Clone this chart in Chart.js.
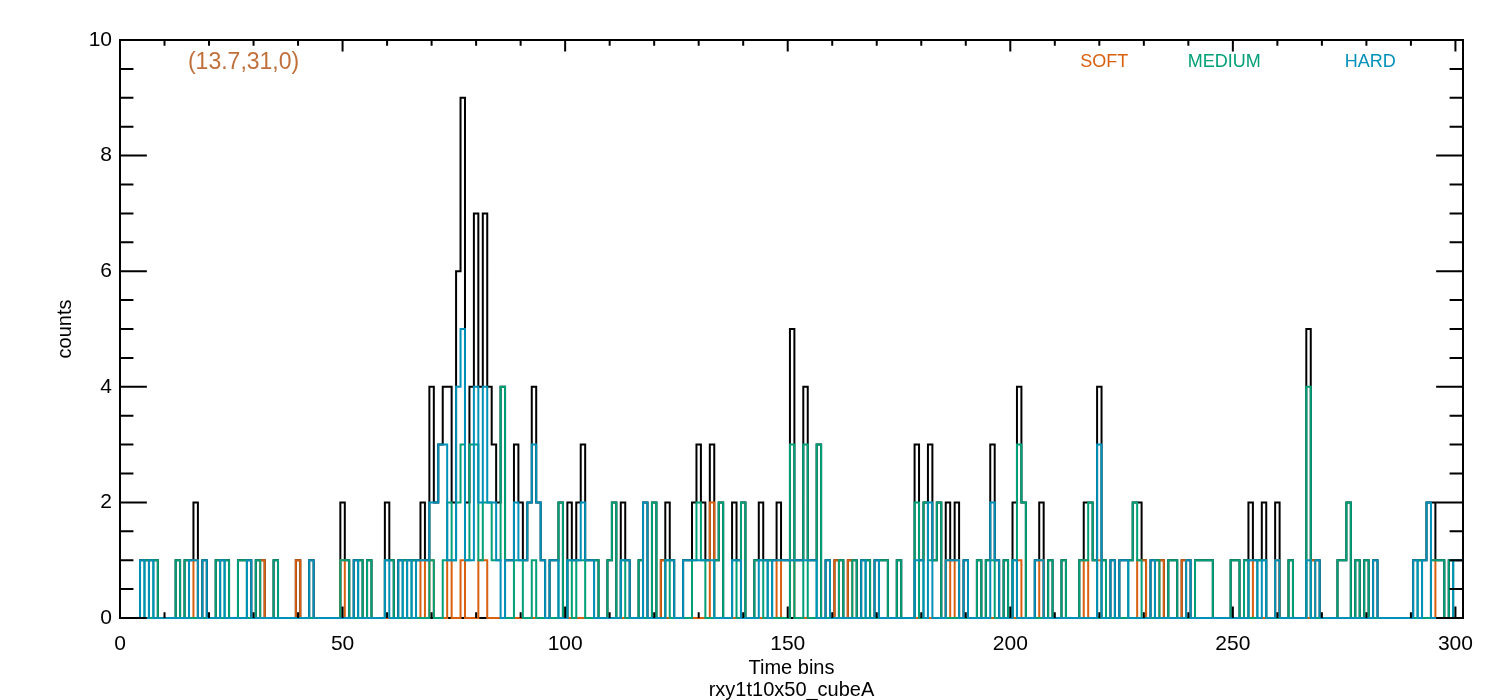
<!DOCTYPE html>
<html>
<head>
<meta charset="utf-8">
<script src="https://cdn.jsdelivr.net/npm/chart.js@4.4.1/dist/chart.umd.min.js"></script>
<style>
html,body{margin:0;padding:0;background:#fff;}
#wrap{width:1500px;height:700px;position:relative;}
</style>
</head>
<body>
<div id="wrap"><canvas id="c" width="1500" height="700"></canvas></div>
<script>
// ---- data: counts per time bin (bins 0..301) ----
const soft = [
0,0,0,0,0,0,0,0,0,0, 0,0,0,0,0,0,0,1,0,0, 0,0,0,0,0,0,0,0,0,0, 0,0,1,0,0,0,0,0,0,0, 1,0,0,0,0,0,0,0,0,0,
1,0,0,0,0,0,0,0,0,0, 0,0,0,0,0,0,0,0,1,0, 1,0,0,0,1,0,0,1,0,0, 0,1,1,0,0,0,0,0,0,0, 0,0,0,0,0,0,0,0,0,0,
0,0,0,0,0,0,0,0,0,0, 0,0,0,0,0,0,0,0,0,0, 0,0,1,0,0,0,0,0,0,0, 0,0,0,2,0,0,0,0,0,0, 0,0,0,0,0,0,0,0,1,0,
0,1,0,0,0,0,0,0,0,0, 0,1,0,0,1,0,0,0,0,0, 0,0,0,0,0,0,0,0,0,0, 0,0,0,0,0,0,1,0,1,0, 0,0,0,0,0,0,0,0,0,0,
0,0,1,0,0,0,0,1,0,0, 0,0,0,0,0,0,0,1,0,0, 1,0,0,0,0,0,0,0,0,1, 1,0,0,0,1,0,0,0,0,1, 0,0,0,0,0,0,0,0,0,0,
0,0,0,0,1,0,0,0,0,0, 1,0,0,0,0,0,0,0,1,0, 0,0,0,0,0,0,0,0,0,0, 0,0,0,0,0,0,0,0,0,0, 0,0,0,0,0,1,0,0,0,0,
0,0
];
const medium = [
0,0,0,0,0,0,1,0,1,0, 0,0,0,1,0,1,0,0,0,0, 0,0,1,0,1,0,0,1,1,0, 0,1,0,0,0,1,0,0,0,0, 0,0,0,0,0,0,0,0,0,0,
1,1,0,0,1,0,1,0,0,0, 1,1,0,0,1,0,1,0,0,0, 1,0,0,1,2,1,2,3,1,3, 3,1,2,2,1,1,4,0,0,1, 1,0,0,1,0,0,0,0,0,2,
0,1,0,1,1,0,0,1,0,0, 1,2,0,1,0,0,0,1,0,0, 2,0,0,1,0,0,0,0,0,1, 2,1,0,0,1,2,0,0,1,0, 2,0,0,1,1,0,1,0,0,0,
0,3,0,0,3,0,0,3,0,0, 0,0,1,0,0,1,0,0,1,0, 0,1,1,0,0,1,0,0,0,2, 0,2,1,1,2,0,0,0,0,0, 0,0,0,1,0,1,1,0,0,1,
0,1,3,2,0,0,0,0,0,1, 0,0,1,0,0,0,1,1,2,1, 0,1,0,0,0,0,0,1,2,1, 0,0,0,1,0,0,1,1,0,0, 0,0,1,1,1,1,0,0,0,0,
1,1,0,1,0,0,1,1,0,0, 0,0,0,1,0,0,0,4,0,0, 0,0,0,0,1,1,2,0,1,0, 1,0,0,0,0,0,0,0,0,0, 0,0,1,0,0,1,1,1,0,1,
0,0
];
const hard = [
0,0,0,0,0,1,0,1,0,0, 0,0,0,0,0,0,1,1,0,1, 0,0,0,1,0,0,0,0,0,1, 0,0,0,0,0,0,0,0,0,0, 0,0,0,1,0,0,0,0,0,0,
0,0,0,1,0,0,0,0,0,0, 1,0,0,1,0,1,0,1,1,1, 2,2,3,3,1,1,4,5,1,1, 4,2,4,2,2,1,0,1,1,2, 1,1,2,3,2,1,0,1,1,0,
0,1,1,1,2,1,1,0,0,0, 0,0,0,1,1,0,0,0,2,0, 0,0,0,1,1,0,0,1,1,1, 1,1,1,1,0,0,0,0,1,1, 0,0,0,0,1,1,0,1,1,1,
1,1,1,1,1,1,1,0,0,1, 0,0,0,0,0,0,0,1,0,0, 1,0,0,0,0,0,0,0,0,1, 1,0,2,0,0,0,1,1,1,0, 1,0,0,0,0,0,2,1,0,0,
0,1,0,0,0,0,1,1,0,0, 0,0,0,0,0,0,0,0,0,0, 3,0,0,1,0,1,1,0,0,0, 0,0,1,0,0,0,0,0,0,0, 1,0,0,0,0,0,0,0,0,0,
0,0,0,0,1,1,0,1,0,0, 1,0,0,0,0,0,0,1,0,1, 0,0,0,0,0,0,0,0,0,0, 0,0,1,0,0,0,0,0,0,0, 0,1,0,1,2,0,0,0,0,0,
1,1
];
const total = [
0,0,0,0,0,1,1,1,1,0, 0,0,0,1,0,1,1,2,0,1, 0,0,1,1,1,0,0,1,1,1, 0,1,1,0,0,1,0,0,0,0, 1,0,0,1,0,0,0,0,0,0,
2,1,0,1,1,0,1,0,0,0, 2,1,0,1,1,1,1,1,2,1, 4,2,3,4,4,2,6,9,2,4, 7,4,7,4,3,2,4,1,1,3, 2,1,2,4,2,1,0,1,1,2,
0,2,1,2,3,1,1,1,0,0, 1,2,0,2,1,0,0,1,2,0, 2,0,1,2,1,0,0,1,1,2, 3,2,1,3,1,2,0,0,2,1, 2,0,0,1,2,1,1,1,2,1,
1,5,1,1,4,1,1,3,0,1, 0,1,1,0,1,1,0,1,1,0, 1,1,1,0,0,1,0,0,0,3, 1,2,3,1,2,0,2,1,2,0, 1,0,0,1,0,1,3,1,0,1,
0,2,4,2,0,0,1,2,0,1, 0,0,1,0,0,0,1,2,2,1, 4,1,0,1,0,1,1,1,2,2, 1,0,1,1,1,0,1,1,0,1, 1,0,1,1,1,1,0,0,0,0,
1,1,0,1,2,1,1,2,0,0, 2,0,0,1,0,0,0,5,1,1, 0,0,0,0,1,1,2,0,1,0, 1,0,1,0,0,0,0,0,0,0, 0,1,1,1,2,2,1,1,0,1,
1,1
];
const xMax = 301.7;
const yMax = 10;
const xTickValues = [0, 50, 100, 150, 200, 250, 300];
const yTickValues = [0, 2, 4, 6, 8, 10];
const titleText = '(13.7,31,0)';
const legendLabels = ['SOFT', 'MEDIUM', 'HARD'];
const xTitle = 'Time bins';
const xSubTitle = 'rxy1t10x50_cubeA';
const yTitle = 'counts';

const COL = { total: '#000000', soft: '#d9600e', medium: '#00a078', hard: '#0091b9', title: '#c0703a' };
const FONT = "'Liberation Sans', Arial, sans-serif";

function toPoints(arr) {
  const pts = arr.map((v, i) => ({ x: i, y: v }));
  pts.push({ x: xMax, y: arr[arr.length - 1] });
  return pts;
}
function ds(label, arr, color, order) {
  return { label, data: toPoints(arr), borderColor: color, backgroundColor: color,
    borderWidth: 2, pointRadius: 0, stepped: 'middle', fill: false, order, clip: 3,
    borderJoinStyle: 'miter', borderCapStyle: 'butt' };
}

const decor = {
  id: 'decor',
  beforeDatasetsDraw(chart) {
    const { ctx, chartArea: a } = chart;
    ctx.save();
    ctx.strokeStyle = '#000';
    ctx.lineWidth = 2;
    ctx.strokeRect(a.left, a.top, a.right - a.left, a.bottom - a.top);
    ctx.restore();
  },
  afterDatasetsDraw(chart) {
    const { ctx, chartArea: a, scales } = chart;
    const x = scales.x, y = scales.y;
    const W = a.right - a.left, H = a.bottom - a.top;
    ctx.save();
    ctx.strokeStyle = '#000';
    ctx.lineWidth = 2;
    ctx.beginPath();
    for (let v = 0; v <= 300; v += 10) {
      const px = x.getPixelForValue(v);
      const len = (v % 50 === 0) ? 0.02 * H : 0.01 * H;
      ctx.moveTo(px, a.bottom); ctx.lineTo(px, a.bottom - len);
      ctx.moveTo(px, a.top); ctx.lineTo(px, a.top + len);
    }
    for (let v = 0; v <= yMax; v += 0.5) {
      const py = y.getPixelForValue(v);
      const len = (v % 2 === 0) ? 0.02 * W : 0.01 * W;
      ctx.moveTo(a.left, py); ctx.lineTo(a.left + len, py);
      ctx.moveTo(a.right, py); ctx.lineTo(a.right - len, py);
    }
    ctx.stroke();

    ctx.textBaseline = 'middle';
    ctx.textAlign = 'left';
    ctx.font = '23px ' + FONT;
    ctx.fillStyle = COL.title;
    ctx.fillText(titleText, a.left + 0.0506 * W, a.top + 23);
    ctx.font = '18px ' + FONT;
    const lx = [0.715, 0.795, 0.912];
    const lc = [COL.soft, COL.medium, COL.hard];
    legendLabels.forEach((t, i) => { ctx.fillStyle = lc[i]; ctx.fillText(t, a.left + lx[i] * W, a.top + 22); });

    ctx.fillStyle = '#000';
    ctx.font = '20px ' + FONT;
    ctx.textAlign = 'center';
    ctx.fillText(xTitle, (a.left + a.right) / 2, a.bottom + 50);
    ctx.fillText(xSubTitle, (a.left + a.right) / 2, a.bottom + 72);
    ctx.translate(65, (a.top + a.bottom) / 2);
    ctx.rotate(-Math.PI / 2);
    ctx.fillText(yTitle, 0, 0);
    ctx.restore();
  }
};

new Chart(document.getElementById('c'), {
  type: 'line',
  data: { datasets: [
    ds('HARD', hard, COL.hard, 1),
    ds('MEDIUM', medium, COL.medium, 2),
    ds('SOFT', soft, COL.soft, 3),
    ds('TOTAL', total, COL.total, 4)
  ] },
  options: {
    responsive: false,
    devicePixelRatio: 1,
    animation: false,
    layout: { padding: { top: 40, right: 37, left: 0, bottom: 0 } },
    plugins: { legend: { display: false }, tooltip: { enabled: false }, title: { display: false } },
    scales: {
      x: {
        type: 'linear', min: 0, max: xMax,
        grid: { display: false, drawTicks: false },
        border: { display: false },
        afterBuildTicks: (s) => { s.ticks = xTickValues.map(v => ({ value: v })); },
        afterFit: (s) => { s.height = 82; },
        ticks: { autoSkip: false, maxRotation: 0, padding: 14, color: '#000', font: { family: FONT, size: 21 },
          callback: (v) => String(v) }
      },
      y: {
        type: 'linear', min: 0, max: yMax,
        grid: { display: false, drawTicks: false },
        border: { display: false },
        afterBuildTicks: (s) => { s.ticks = yTickValues.map(v => ({ value: v })); },
        afterFit: (s) => { s.width = 120; },
        ticks: { autoSkip: false, padding: 8, color: '#000', font: { family: FONT, size: 21 },
          callback: (v) => String(v) }
      }
    }
  },
  plugins: [decor]
});
</script>
</body>
</html>
